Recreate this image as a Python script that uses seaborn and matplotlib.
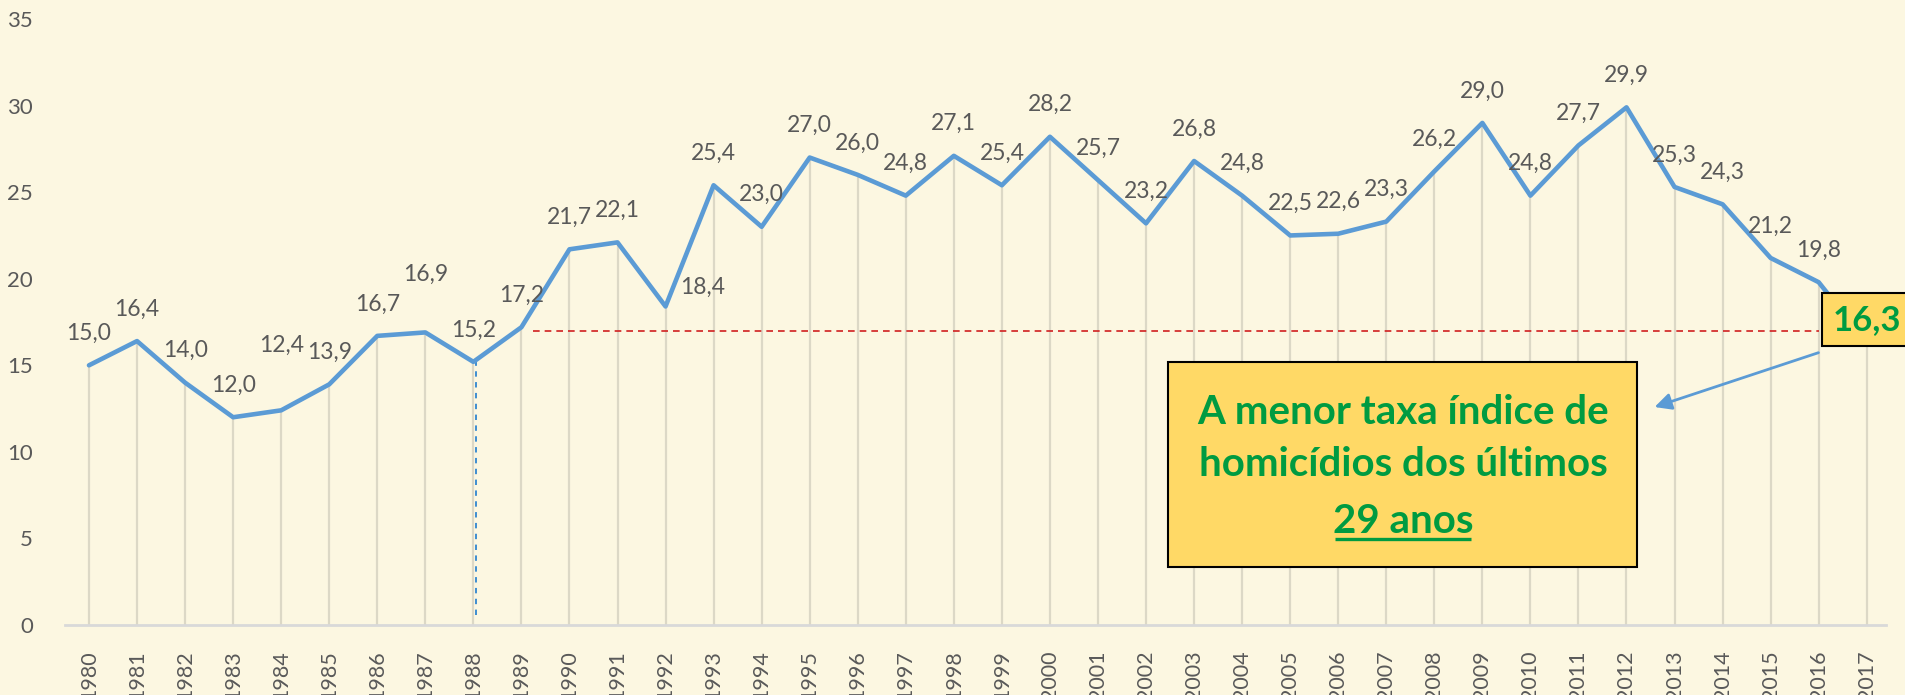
import numpy as np
import pandas as pd
import matplotlib.pyplot as plt
import seaborn as sns
from matplotlib.patches import Rectangle

years = list(range(1980, 2018))
rates = [15.0, 16.4, 14.0, 12.0, 12.4, 13.9, 16.7, 16.9, 15.2, 17.2,
         21.7, 22.1, 18.4, 25.4, 23.0, 27.0, 26.0, 24.8, 27.1, 25.4,
         28.2, 25.7, 23.2, 26.8, 24.8, 22.5, 22.6, 23.3, 26.2, 29.0,
         24.8, 27.7, 29.9, 25.3, 24.3, 21.2, 19.8, 16.3]
ref_level = 17.0
marker_year = 1988
box_lines = ["A menor taxa índice de", "homicídios dos últimos", "29 anos"]

df = pd.DataFrame({"ano": years, "taxa": rates})
df["pos"] = np.arange(len(df))

bg = "#FCF7E1"
blue = "#5B9BD5"
gray_txt = "#595959"
green = "#009B41"
gold = "#FFD966"

sns.set_theme(style="white", rc={"axes.facecolor": bg, "figure.facecolor": bg})
plt.rcParams["font.family"] = ["Lato", "DejaVu Sans"]

fig = plt.figure(figsize=(19.05, 6.95), dpi=100)
ax = fig.add_axes([0.0341, 0.1007, 0.9559, 0.8719])

# drop lines from every point to the axis
ax.vlines(df["pos"], 0, df["taxa"], color="#DCD8C6", lw=1.6, zorder=1)

sns.lineplot(data=df, x="pos", y="taxa", color=blue, lw=3.3, ax=ax, zorder=3)

# reference lines
ax.hlines(ref_level, 9.25, 36.0, color="#D02020", lw=1.2, ls=(0, (4, 3)), zorder=2)
i88 = years.index(marker_year)
ax.vlines(i88 + 0.05, 0.6, rates[i88], color="#2E86D0", lw=1.3, ls=(0, (3, 3)), zorder=2)

# data labels
nudges = {1984: (0, 65), 1987: (0, 58), 1992: (37, 19)}
for i, (yr, v) in enumerate(zip(years, rates)):
    if yr == years[-1]:
        continue
    dx, dy = nudges.get(yr, (0, 32))
    ax.annotate(f"{v:.1f}".replace(".", ","), (i, v), xytext=(dx, dy),
                textcoords="offset pixels", ha="center", va="center",
                fontsize=16.5, color=gray_txt, zorder=4)

# last value highlighted
last = len(years) - 1
ax.annotate(f"{rates[-1]:.1f}".replace(".", ","), (last, rates[-1]), xytext=(0, 23),
            textcoords="offset pixels", ha="center", va="center",
            fontsize=25, fontweight="bold", color=green, zorder=6,
            annotation_clip=False,
            bbox=dict(boxstyle="square,pad=0.3", fc=gold, ec="black", lw=1.5))

# callout box
ax.add_patch(Rectangle((22.46, 3.35), 9.76, 11.85, fc=gold, ec="black", lw=1.5, zorder=5))
ax.text(27.35, 12.25, box_lines[0], ha="center", va="center", fontsize=29,
        fontweight="bold", color=green, zorder=6)
ax.text(27.35, 9.25, box_lines[1], ha="center", va="center", fontsize=29,
        fontweight="bold", color=green, zorder=6)
t3 = ax.text(27.35, 5.95, box_lines[2], ha="center", va="center", fontsize=29,
             fontweight="bold", color=green, zorder=6)

ax.annotate("", xy=(32.53, 12.54), xytext=(36.05, 15.78),
            arrowprops=dict(arrowstyle="-|>", color=blue, lw=2, mutation_scale=25),
            zorder=6, annotation_clip=False)

ax.set_xlim(-0.5, 37.4)
ax.set_ylim(0, 35)
ax.set_xticks(df["pos"])
ax.set_xticklabels(years, rotation=90)
ax.set_yticks(range(0, 36, 5))
ax.tick_params(axis="x", length=0, pad=18, labelsize=15.5, labelcolor=gray_txt)
ax.tick_params(axis="y", length=0, pad=23, labelsize=16, labelcolor=gray_txt)
for s in ["top", "right", "left"]:
    ax.spines[s].set_visible(False)
ax.spines["bottom"].set_color("#D9D9D9")
ax.spines["bottom"].set_linewidth(2)
ax.set_xlabel("")
ax.set_ylabel("")

# underline the last line of the callout
fig.canvas.draw()
bb = t3.get_window_extent().transformed(ax.transData.inverted())
ax.plot([bb.x0 + 0.05, bb.x1 - 0.05], [bb.y0 + 0.1, bb.y0 + 0.1], color=green, lw=2.4,
        zorder=7, solid_capstyle="butt")

fig.savefig("out.png", dpi=100, facecolor=bg)
